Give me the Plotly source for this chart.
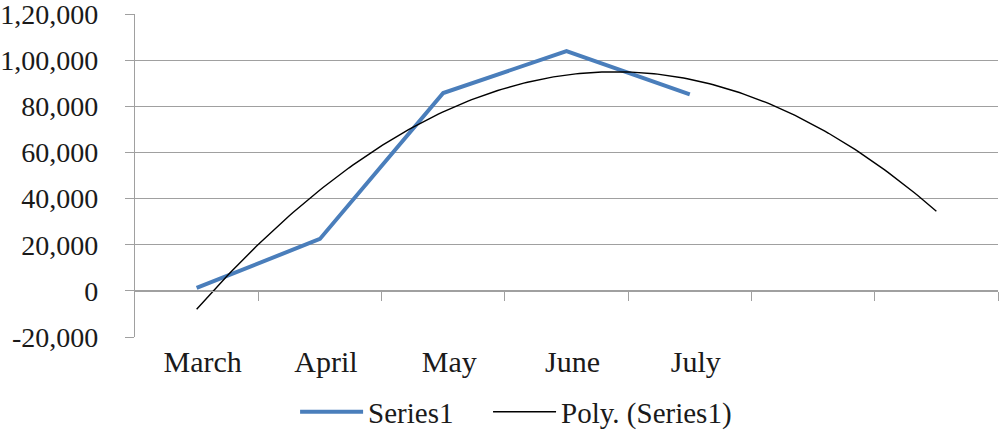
import numpy as np
import plotly.graph_objects as go

months = ["March", "April", "May", "June", "July"]
series1 = [1300, 22500, 85750, 103900, 85200]
forecast_periods = 2
y_tickvals = [-20000, 0, 20000, 40000, 60000, 80000, 100000, 120000]
y_ticktext = ["-20,000", "0", "20,000", "40,000", "60,000", "80,000", "1,00,000", "1,20,000"]

FONT = "Liberation Serif, Times New Roman, serif"
TXT = "#1a1a1a"
GRID = "#A0A0A0"

x_pos = np.arange(1, len(months) + 1)
coef = np.polyfit(x_pos, series1, 2)
n_total = len(months) + forecast_periods
x_trend = np.linspace(1, n_total, 200)
y_trend = np.polyval(coef, x_trend)

ymin, ymax = y_tickvals[0], y_tickvals[-1]

fig = go.Figure()
fig.add_trace(go.Scatter(x=x_pos, y=series1, mode="lines", name="Series1",
                         line=dict(color="#4A7EBB", width=4), legend="legend"))
fig.add_trace(go.Scatter(x=x_trend, y=y_trend, mode="lines", name="Poly. (Series1)",
                         line=dict(color="#000000", width=1.4), legend="legend2"))
# dummy trace on overlay axis for the category axis at y=0
fig.add_trace(go.Scatter(x=[None], y=[None], xaxis="x2", showlegend=False, hoverinfo="skip"))

leg_common = dict(orientation="h", xanchor="left", y=-0.232, yanchor="middle",
                  font=dict(size=29, family=FONT, color=TXT), itemwidth=63,
                  bgcolor="rgba(0,0,0,0)")

fig.update_layout(
    width=1003, height=435,
    margin=dict(l=135, r=5, t=14, b=98, autoexpand=False),
    paper_bgcolor="white", plot_bgcolor="white",
    font=dict(family=FONT, size=28, color=TXT),
    showlegend=True,
    legend=dict(x=0.1855, **leg_common),
    legend2=dict(x=0.4091, **leg_common),
    xaxis=dict(range=[0.5, n_total + 0.5], tickmode="array", tickvals=list(x_pos),
               ticktext=months, showgrid=False, zeroline=False, showline=False,
               ticks="", ticklabelstandoff=4, ticklabelshift=6,
               tickfont=dict(size=30), automargin=False),
    xaxis2=dict(overlaying="x", anchor="free", position=(0 - ymin) / (ymax - ymin),
                range=[0.5, n_total + 0.5], tickmode="array",
                tickvals=[i + 0.5 for i in range(1, n_total + 1)],
                showticklabels=False, ticks="outside", ticklen=9, tickcolor=GRID,
                tickwidth=1.3, showline=True, linecolor=GRID, linewidth=1.3,
                showgrid=False, zeroline=False, automargin=False),
    yaxis=dict(range=[ymin, ymax], tickmode="array", tickvals=y_tickvals,
               ticktext=y_ticktext, showgrid=True, gridcolor=GRID, gridwidth=1.3,
               zeroline=False, showline=True, linecolor=GRID, linewidth=1.3,
               ticks="outside", ticklen=9, tickcolor=GRID, tickwidth=1.3,
               ticklabelstandoff=21, tickfont=dict(size=28), automargin=False,
               ticklabeloverflow="allow"),
)

fig.write_html("out.html", config={"displayModeBar": False},
               post_script="document.body.style.margin='0';")
